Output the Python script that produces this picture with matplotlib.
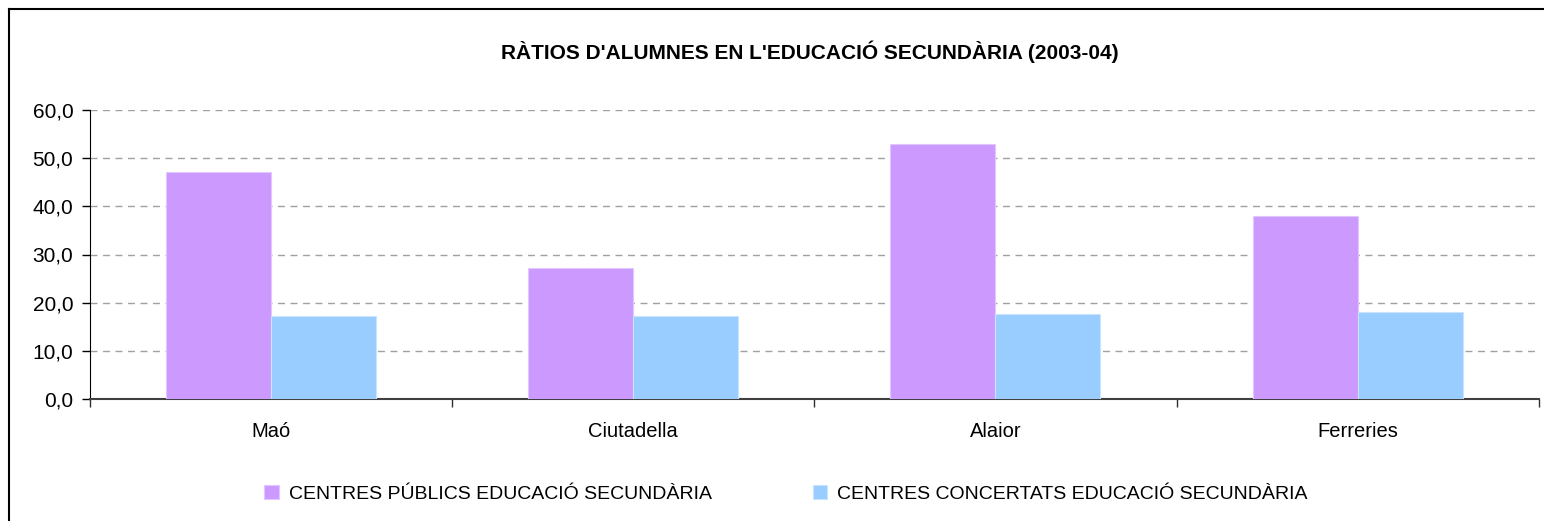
import matplotlib
matplotlib.use("Agg")
import matplotlib.pyplot as plt
from matplotlib.lines import Line2D
import numpy as np

categories = ["Maó", "Ciutadella", "Alaior", "Ferreries"]
publics = [47.2, 27.2, 53.0, 38.1]
concertats = [17.2, 17.2, 17.6, 18.0]
series_names = ["CENTRES PÚBLICS EDUCACIÓ SECUNDÀRIA", "CENTRES CONCERTATS EDUCACIÓ SECUNDÀRIA"]
title = "RÀTIOS D'ALUMNES EN L'EDUCACIÓ SECUNDÀRIA (2003-04)"
yticks = [0, 10, 20, 30, 40, 50, 60]

plt.rcParams['font.family'] = ['Liberation Sans', 'DejaVu Sans']

W, H = 1544, 521
fig = plt.figure(figsize=(W / 100, H / 100), dpi=100)
fig.patch.set_facecolor('white')

# outer chart border (left and top visible)
fig.add_artist(Line2D([8.5 / W, 8.5 / W], [0, 1 - 8.5 / H], color='black', lw=1.5, transform=fig.transFigure))
fig.add_artist(Line2D([8.5 / W, 1], [1 - 8.5 / H, 1 - 8.5 / H], color='black', lw=1.5, transform=fig.transFigure))

left, right = 90 / W, 1538.7 / W
bottom, top = 1 - 398.7 / H, 1 - 110.3 / H
ax = fig.add_axes([left, bottom, right - left, top - bottom])

x = np.arange(len(categories))
bw = 0.29
b1 = ax.bar(x - bw / 2, publics, width=bw, color='#CC99FF', edgecolor='#E0C8FF', linewidth=0.8, zorder=3,
            label=series_names[0])
b2 = ax.bar(x + bw / 2, concertats, width=bw, color='#99CCFF', edgecolor='#C8E4FF', linewidth=0.8, zorder=3,
            label=series_names[1])

ax.set_xlim(-0.5, len(categories) - 0.5)
ax.set_ylim(0, 60)
ax.set_yticks(yticks)
ax.set_yticklabels([f"{v:.1f}".replace('.', ',') for v in yticks], fontsize=15)
for v in yticks[1:]:
    ax.axhline(v, color='#A0A0A0', lw=1.0, ls=(0, (5, 4)), zorder=1)

ax.set_xticks(x)
ax.set_xticklabels(categories, fontsize=14.5)
ax.tick_params(axis='x', length=0, pad=17)
ax.set_xticks(np.arange(len(categories) + 1) - 0.5, minor=True)
ax.tick_params(axis='x', which='minor', length=6, width=1, color='#303030', direction='out')
ax.tick_params(axis='y', length=6, width=1, color='black', pad=6)

for s in ['top', 'right']:
    ax.spines[s].set_visible(False)
ax.spines['left'].set_color('black')
ax.spines['bottom'].set_color('#404040')
ax.spines['bottom'].set_linewidth(1.5)

fig.text(810 / W, 1 - 52 / H, title, ha='center', va='center', fontsize=15, fontweight='bold')

leg = fig.legend(handles=[b1, b2], loc='center', bbox_to_anchor=(786 / W, 1 - 494 / H),
                 ncol=2, frameon=False, handlelength=0.75, handleheight=0.75, handletextpad=0.5,
                 columnspacing=5.2, prop={'size': 14})

fig.savefig("out.png", dpi=100, facecolor='white')
